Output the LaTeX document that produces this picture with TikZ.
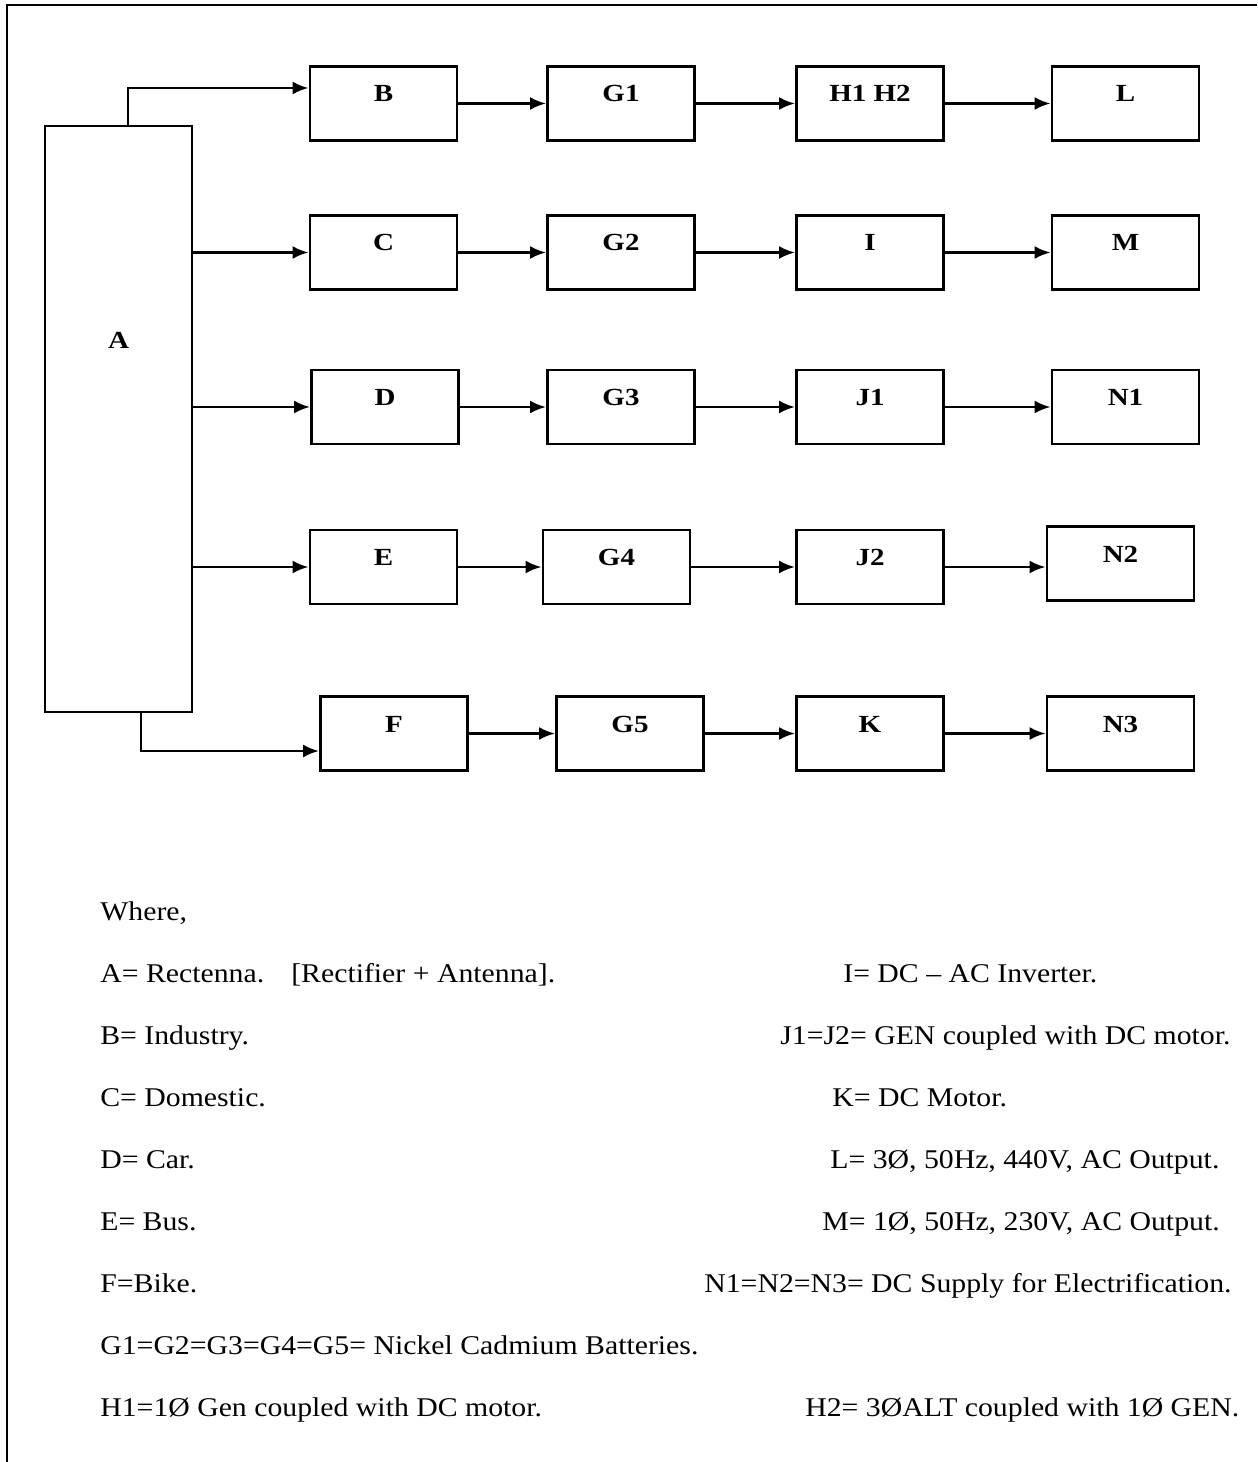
\documentclass[tikz,border=0pt]{standalone}
\usepackage{fontspec}
\setmainfont{Liberation Serif}
\newfontfamily\keyfont[FakeStretch=1.1]{Liberation Serif}
\newfontfamily\blkfont[FakeStretch=1.18]{Liberation Serif}
\usetikzlibrary{arrows.meta}
\tikzstyle{blk}=[draw=black, line width=1.6pt, minimum width=2.94cm,
        minimum height=1.48cm, inner sep=0pt, text height=0.32cm, text depth=0.38cm,
        font=\blkfont\fontsize{14}{16}\selectfont\bfseries]
\tikzstyle{arr}=[line width=1.6pt, -{Latex[length=3.2mm, width=2.6mm]}]
\tikzstyle{key}=[anchor=base west, inner sep=0pt, font=\keyfont\fontsize{15.4}{18}\selectfont]

\begin{document}
\begin{tikzpicture}[x=0.02cm, y=-0.02cm]
        \useasboundingbox (0,0) rectangle (1257,1462);
        \draw[line width=1.1pt] (7,1462) -- (7,5) -- (1257,5);

        \node[blk, minimum height=11.72cm, text depth=3.14cm] (a) at (118.5,419) {A};

        \node[blk] (b) at (383.5,103.5) {B};
        \node[blk] (g1) at (621,103.5) {G1};
        \node[blk] (h) at (870,103.5) {H1 H2};
        \node[blk] (l) at (1125.5,103.5) {L};

        \node[blk] (c) at (383.5,252.5) {C};
        \node[blk] (g2) at (621,252.5) {G2};
        \node[blk] (i) at (870,252.5) {I};
        \node[blk] (m) at (1125.5,252.5) {M};

        \node[blk] (d) at (385,407) {D};
        \node[blk] (g3) at (621,407) {G3};
        \node[blk] (j1) at (870,407) {J1};
        \node[blk] (n1) at (1125.5,407) {N1};

        \node[blk] (e) at (383.5,567) {E};
        \node[blk] (g4) at (616.5,567) {G4};
        \node[blk] (j2) at (870,567) {J2};
        \node[blk] (n2) at (1120.5,563.5) {N2};

        \node[blk] (f) at (394,733.5) {F};
        \node[blk] (g5) at (630,733.5) {G5};
        \node[blk] (k) at (870,733.5) {K};
        \node[blk] (n3) at (1120.5,733.5) {N3};

        % feeds out of the rectenna
        \draw[arr] ([xshift=0.19cm]a.north) |- ([yshift=0.31cm]b.west);
        \draw[arr] (a.east |- c.west) -- (c.west);
        \draw[arr] (a.east |- d.west) -- (d.west);
        \draw[arr] (a.east |- e.west) -- (e.west);
        \draw[arr] ([xshift=0.45cm]a.south) |- ([yshift=-0.35cm]f.west);

        % chains
        \draw[arr] (b) -- (g1); \draw[arr] (g1) -- (h); \draw[arr] (h) -- (l);
        \draw[arr] (c) -- (g2); \draw[arr] (g2) -- (i); \draw[arr] (i) -- (m);
        \draw[arr] (d) -- (g3); \draw[arr] (g3) -- (j1); \draw[arr] (j1) -- (n1);
        \draw[arr] (e) -- (g4); \draw[arr] (g4) -- (j2);
        \draw[arr] (j2.east) -- (j2.east -| n2.west);
        \draw[arr] (f) -- (g5); \draw[arr] (g5) -- (k); \draw[arr] (k) -- (n3);

        % key
        \node[key] (w) at (100,920) {Where,};
        \node[key] (ka) at (100,982) {A= Rectenna.\quad[Rectifier + Antenna].};
        \node[key] (kb) at (100,1044) {B= Industry.};
        \node[key] (kc) at (100,1106) {C= Domestic.};
        \node[key] (kd) at (100,1168) {D= Car.};
        \node[key] (ke) at (100,1230) {E= Bus.};
        \node[key] (kf) at (100,1292) {F=Bike.};
        \node[key] (kg) at (100,1354) {G1=G2=G3=G4=G5= Nickel Cadmium Batteries.};
        \node[key] (kh1) at (100,1416) {H1=1Ø Gen coupled with DC motor.};
        \node[key] (ki) at (843,982) {I= DC – AC Inverter.};
        \node[key] (kj) at (780,1044) {J1=J2= GEN coupled with DC motor.};
        \node[key] (kk) at (832,1106) {K= DC Motor.};
        \node[key] (kl) at (830,1168) {L= 3Ø, 50Hz, 440V, AC Output.};
        \node[key] (km) at (822,1230) {M= 1Ø, 50Hz, 230V, AC Output.};
        \node[key] (kn) at (704,1292) {N1=N2=N3= DC Supply for Electrification.};
        \node[key] (kh2) at (805,1416) {H2= 3ØALT coupled with 1Ø GEN.};
\end{tikzpicture}
\end{document}
